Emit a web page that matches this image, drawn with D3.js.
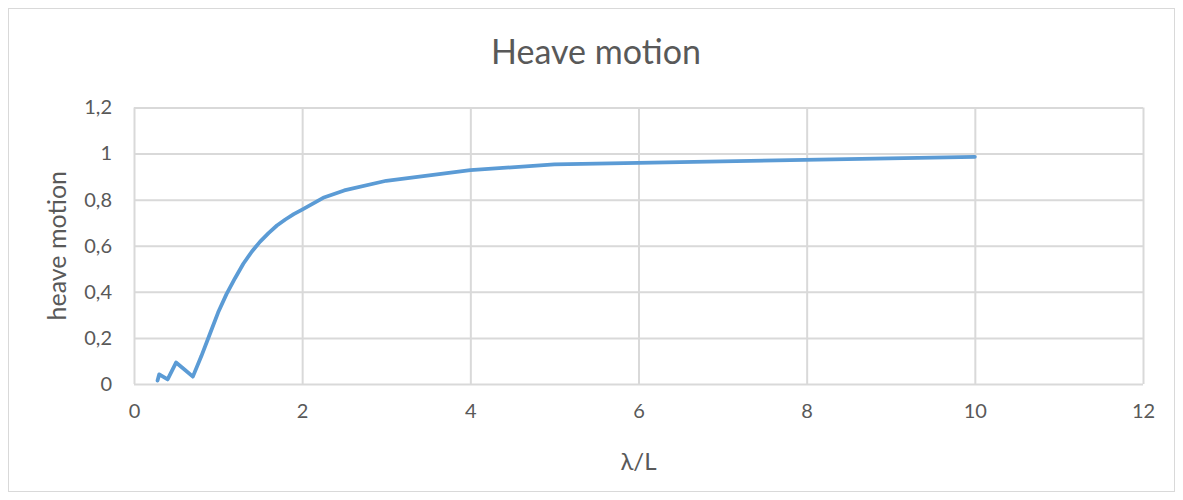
<!DOCTYPE html>
<html>
<head>
<meta charset="utf-8">
<script src="https://cdn.jsdelivr.net/npm/d3@7"></script>
<style>
  html, body { margin: 0; padding: 0; background: #fff; }
  svg { display: block; }
  text { font-family: Lato, "Open Sans", sans-serif; fill: #595959; }
</style>
</head>
<body>
<svg id="chart" width="1183" height="500"></svg>
<script>
// ---- data ----
const lambdaL = [0.28, 0.3, 0.4, 0.5, 0.6, 0.7, 0.8, 0.9, 1.0, 1.1, 1.2, 1.3, 1.4, 1.5, 1.6, 1.7, 1.8, 1.9, 2.0, 2.25, 2.5, 3, 4, 5, 10];
const heave   = [0.015, 0.042, 0.02, 0.093, 0.063, 0.032, 0.12, 0.215, 0.31, 0.39, 0.458, 0.522, 0.574, 0.618, 0.655, 0.688, 0.714, 0.737, 0.757, 0.808, 0.84, 0.882, 0.928, 0.953, 0.986];
const xTicks = [0, 2, 4, 6, 8, 10, 12];
const yTicks = [0, 0.2, 0.4, 0.6, 0.8, 1, 1.2];
const chartTitle = "Heave motion";
const xTitle = "λ/L";
const yTitle = "heave motion";

const svg = d3.select("#chart");
const m = { left: 134, right: 1143, top: 107.5, bottom: 384 };

// outer border
svg.append("rect").attr("x", 8.5).attr("y", 8.5).attr("width", 1166).attr("height", 483)
  .attr("fill", "#fff").attr("stroke", "#d9d9d9").attr("stroke-width", 1);

const x = d3.scaleLinear().domain([0, 12]).range([m.left, m.right]);
const y = d3.scaleLinear().domain([0, 1.2]).range([m.bottom, m.top]);

const fmt = d => d3.format("~g")(d).replace(".", ",");

// grid lines + tick labels
const gx = svg.append("g").attr("transform", `translate(0,${m.bottom})`)
  .call(d3.axisBottom(x).tickValues(xTicks).tickSize(-(m.bottom - m.top)).tickFormat(fmt).tickPadding(20));
gx.select(".domain").remove();
gx.selectAll(".tick line").attr("stroke", "#d9d9d9").attr("stroke-width", 2);
gx.selectAll(".tick text").attr("font-size", 20).attr("fill", "#595959").attr("font-family", "Lato");

const gy = svg.append("g").attr("transform", `translate(${m.left},0)`)
  .call(d3.axisLeft(y).tickValues(yTicks).tickSize(-(m.right - m.left)).tickFormat(fmt).tickPadding(22));
gy.select(".domain").remove();
gy.selectAll(".tick line").attr("stroke", "#d9d9d9").attr("stroke-width", 2);
gy.selectAll(".tick text").attr("font-size", 20).attr("fill", "#595959").attr("font-family", "Lato");

// line
const data = lambdaL.map((d, i) => [d, heave[i]]);
svg.append("path").datum(data)
  .attr("fill", "none").attr("stroke", "#5b9bd5").attr("stroke-width", 3.8)
  .attr("stroke-linejoin", "round").attr("stroke-linecap", "round")
  .attr("d", d3.line().x(d => x(d[0])).y(d => y(d[1])));

// titles
svg.append("text").attr("x", 596).attr("y", 64).attr("text-anchor", "middle")
  .attr("font-size", 34).text(chartTitle);
svg.append("text").attr("x", (m.left + m.right) / 2).attr("y", 470).attr("text-anchor", "middle")
  .attr("font-size", 24).text(xTitle);
svg.append("text").attr("transform", `translate(66,${(m.top + m.bottom) / 2}) rotate(-90)`)
  .attr("text-anchor", "middle").attr("font-size", 25).text(yTitle);
</script>
</body>
</html>
